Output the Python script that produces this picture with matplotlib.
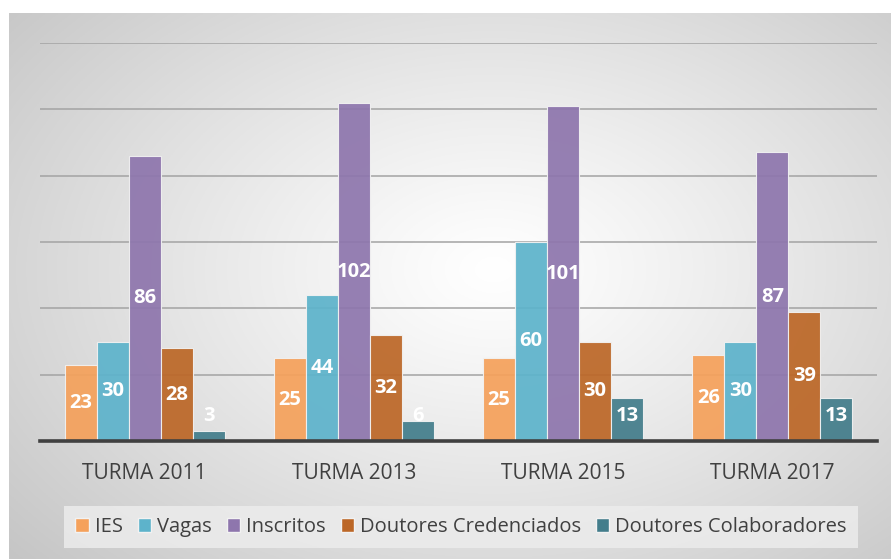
import numpy as np
import matplotlib
matplotlib.use("Agg")
import matplotlib.pyplot as plt
from matplotlib.patches import Patch

categories = ["TURMA 2011", "TURMA 2013", "TURMA 2015", "TURMA 2017"]
series = ["IES", "Vagas", "Inscritos", "Doutores Credenciados", "Doutores Colaboradores"]
ies = [23, 25, 25, 26]
vagas = [30, 44, 60, 30]
inscritos = [86, 102, 101, 87]
credenciados = [28, 32, 30, 39]
colaboradores = [3, 6, 13, 13]
values = [ies, vagas, inscritos, credenciados, colaboradores]
colors = ["#F5A15B", "#5DB3CB", "#8E76AD", "#BC6727", "#437D8B"]

plt.rcParams["font.family"] = ["Open Sans", "DejaVu Sans"]

W, H = 891, 559
fig = plt.figure(figsize=(W / 100, H / 100), dpi=100)
fig.patch.set_facecolor("white")

# radial gradient backdrop (grey edges, white centre)
bg = fig.add_axes([9 / W, 0, 1 - 9 / W, 1 - 13 / H], zorder=0)
yy, xx = np.mgrid[0:1:300j, 0:1:500j]
r = np.sqrt(((xx - 0.55) / 0.55) ** 2 + ((yy - 0.47) / 0.6) ** 2) / np.sqrt(2)
g = np.clip(255 - 62 * np.clip(r, 0, 1.1) ** 1.15, 0, 255) / 255
bg.imshow(np.dstack([g, g, g]), aspect="auto", extent=[0, 1, 0, 1], origin="upper")
bg.axis("off")

ax = fig.add_axes([40 / W, 1 - 441 / H, (877 - 40) / W, (441 - 43) / H], zorder=1)
ax.patch.set_alpha(0)

x = np.arange(len(categories))
bw = 0.153
for i, (name, vals, c) in enumerate(zip(series, values, colors)):
    pos = x + (i - 2) * bw
    ax.bar(pos, vals, width=bw, color=c, alpha=0.93, edgecolor="#f2f2f2",
           linewidth=0.8, zorder=3)
    for p, v in zip(pos, vals):
        ax.text(p, max(v / 2, 7.5), f"{v}", ha="center", va="center",
                color="white", fontsize=14.5, fontweight="bold", zorder=4)

ax.set_xlim(-0.5, len(categories) - 0.5)
ax.set_ylim(0, 120)
ax.set_yticks([20, 40, 60, 80, 100, 120])
ax.yaxis.grid(True, color="#a3a3a3", lw=1.1, zorder=1)
ax.tick_params(axis="y", left=False, labelleft=False)
ax.set_xticks(x)
ax.set_xticklabels(categories, fontsize=15, color="#404040")
ax.tick_params(axis="x", length=0, pad=16)
for s in ("top", "right", "left"):
    ax.spines[s].set_visible(False)
ax.spines["bottom"].set_color("#404040")
ax.spines["bottom"].set_linewidth(2.6)
ax.spines["bottom"].set_zorder(5)

handles = [Patch(facecolor=c, edgecolor="#f2f2f2", label=n) for n, c in zip(series, colors)]
leg = fig.legend(handles=handles, ncol=5, loc="center",
                 bbox_to_anchor=(461 / W, 1 - 527 / H), frameon=True,
                 fontsize=14.5, handlelength=0.65, handleheight=0.65,
                 handletextpad=0.3, columnspacing=0.75, borderpad=0.45)
leg.get_frame().set_facecolor("#ececec")
leg.get_frame().set_edgecolor("none")
leg.get_frame().set_alpha(0.85)
leg.get_frame().set_boxstyle("square", pad=0.1)
for t in leg.get_texts():
    t.set_color("#404040")

fig.savefig("out.png", dpi=100)
